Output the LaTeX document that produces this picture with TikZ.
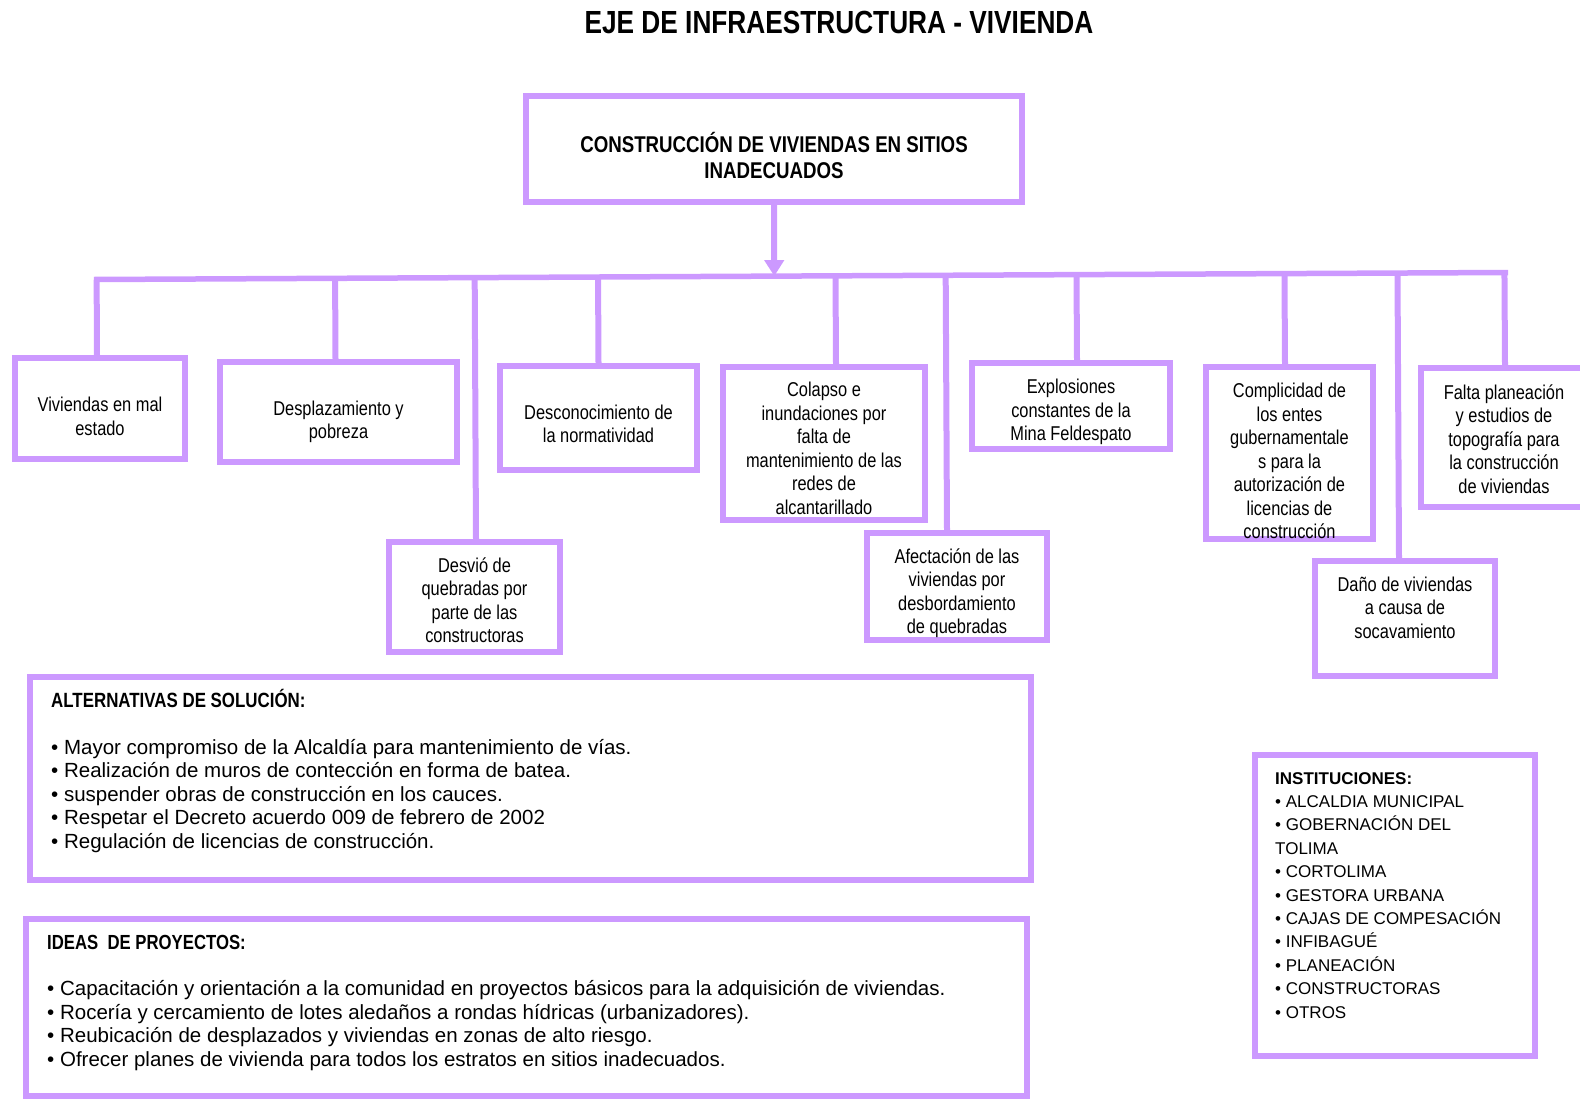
\documentclass[tikz,border=0pt]{standalone}
\usepackage{fontspec}
\setmainfont{Liberation Sans}
\newfontfamily\narrowfont[FakeStretch=0.82]{Liberation Sans}
\usetikzlibrary{arrows.meta,calc}
\definecolor{lila}{RGB}{204,153,255}
\newcommand\alto[1]{\rule{0pt}{#1}}
\tikzset{
  every picture/.style={line join=miter, >=Stealth},
  link/.style={draw=lila, line width=6pt},
  causa/.style={draw=lila, line width=6pt, fill=white, align=center, inner sep=0pt,
    font=\narrowfont\fontsize{20}{23.5}\selectfont},
  marco/.style={draw=lila, line width=6pt, inner sep=0pt},
  lista/.style={anchor=north west, align=left, inner sep=0pt, font=\fontsize{20.5}{23.5}\selectfont},
}

\begin{document}
\begin{tikzpicture}[x=1pt,y=-1pt]
\useasboundingbox (0,0) rectangle (1580,1100);
\node[font=\narrowfont\bfseries\fontsize{32}{36}\selectfont] (titulo) at (839,22) {EJE DE INFRAESTRUCTURA - VIVIENDA};
\node[causa, minimum width=496pt, minimum height=106pt, font=\narrowfont\bfseries\fontsize{22.8}{26}\selectfont] (top) at (774,149) {\alto{34pt}CONSTRUCCIÓN DE VIVIENDAS EN SITIOS\\INADECUADOS};
% causas
\node[causa, minimum width=170pt, minimum height=101pt] (c1) at (100,408.5) {\alto{30.6pt}Viviendas en mal\\estado};
\node[causa, minimum width=237pt, minimum height=100pt] (c2) at (338.5,412) {\alto{34.6pt}Desplazamiento y\\pobreza};
\node[causa, minimum width=197pt, minimum height=104pt] (c3) at (598.5,418) {\alto{26.6pt}Desconocimiento de\\la normatividad};
\node[causa, minimum width=202pt, minimum height=153pt] (c4) at (824,443.5) {\alto{24.6pt}Colapso e\\inundaciones por\\falta de\\mantenimiento de las\\redes de\\alcantarillado};
\node[causa, minimum width=198pt, minimum height=86pt] (c5) at (1071,406) {\alto{26.6pt}Explosiones\\constantes de la\\Mina Feldespato};
\node[causa, minimum width=167pt, minimum height=172pt] (c6) at (1289.5,453) {\alto{30.6pt}Complicidad de\\los entes\\gubernamentale\\s para la\\autorización de\\licencias de\\construcción};
\node[causa, minimum width=166pt, minimum height=139pt] (c7) at (1504,437.5) {\alto{17.6pt}Falta planeación\\y estudios de\\topografía para\\la construcción\\de viviendas};
\node[causa, minimum width=171pt, minimum height=110pt] (c8) at (474.5,597) {\alto{21.6pt}Desvió de\\quebradas por\\parte de las\\constructoras};
\node[causa, minimum width=180pt, minimum height=107pt] (c9) at (957,586.5) {\alto{28.6pt}Afectación de las\\viviendas por\\desbordamiento\\de quebradas};
\node[causa, minimum width=180pt, minimum height=115pt] (c10) at (1405,618.5) {Daño de viviendas\\a causa de\\socavamiento\rule[-22pt]{0pt}{0pt}};
% barra
\coordinate (busL) at (94,279.5);
\coordinate (busR) at (1508,272.5);
\draw[link, line width=5.5pt] (busL) -- (busR);
\foreach \c/\dx in {c1/-3,c2/-3,c3/0,c4/12,c5/6,c6/-4.5,c7/1,c8/1.5,c9/-10,c10/-6}{
  \coordinate (p) at ([xshift=\dx pt]\c.north);
  \draw[link] (p) -- ($(busL)!(p)!(busR)$);
}
\draw[link, -{Triangle[width=19pt,length=16pt]}, lila] (top.south) -- ($(busL)!(top.south)!(busR)$);
% cuadros de abajo
\node[marco, minimum width=1001pt, minimum height=203pt] (alt) at (530.5,778.5) {};
\node[marco, minimum width=1001pt, minimum height=177pt] (ideas) at (526.5,1007.5) {};
\node[marco, minimum width=280pt, minimum height=301pt] (inst) at (1395,905.5) {};
\node[lista] (altx) at (51,689) {{\narrowfont\bfseries\fontsize{20.6}{23.5}\selectfont ALTERNATIVAS DE SOLUCIÓN:}\\[23.5pt]
• Mayor compromiso de la Alcaldía para mantenimiento de vías.\\
• Realización de muros de contección en forma de batea.\\
• suspender obras de construcción en los cauces.\\
• Respetar el Decreto acuerdo 009 de febrero de 2002\\
• Regulación de licencias de construcción.};
\node[lista] (ideasx) at (47,935) {{\narrowfont\bfseries\fontsize{20.4}{23.5}\selectfont IDEAS\ \ DE PROYECTOS:}\\[23pt]
• Capacitación y orientación a la comunidad en proyectos básicos para la adquisición de viviendas.\\
• Rocería y cercamiento de lotes aledaños a rondas hídricas (urbanizadores).\\
• Reubicación de desplazados y viviendas en zonas de alto riesgo.\\
• Ofrecer planes de vivienda para todos los estratos en sitios inadecuados.};
\node[lista, font=\fontsize{17}{23.4}\selectfont] (instx) at (1275,772) {\textbf{INSTITUCIONES:}\\
• ALCALDIA MUNICIPAL\\
• GOBERNACIÓN DEL\\
TOLIMA\\
• CORTOLIMA\\
• GESTORA URBANA\\
• CAJAS DE COMPESACIÓN\\
• INFIBAGUÉ\\
• PLANEACIÓN\\
• CONSTRUCTORAS\\
• OTROS};
\end{tikzpicture}
\end{document}
